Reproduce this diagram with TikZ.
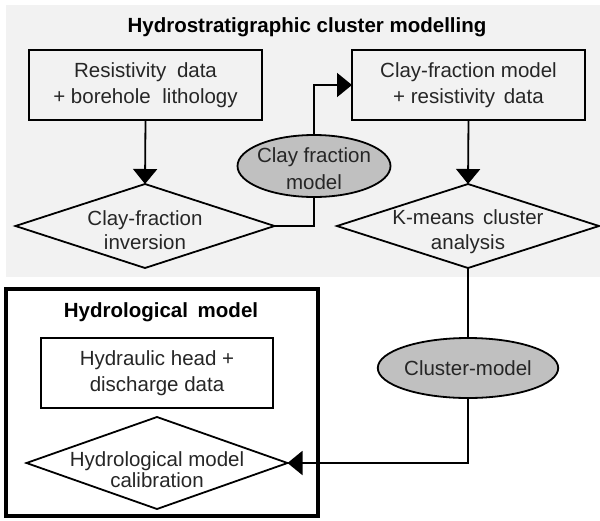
\documentclass[tikz,border=0pt]{standalone}
\usepackage{fontspec}
\setmainfont{Liberation Sans}
\usetikzlibrary{arrows.meta,shapes.geometric}
\definecolor{bggray}{HTML}{F2F2F2}
\definecolor{ellgray}{HTML}{C0C0C0}
\definecolor{txt}{HTML}{262626}
\begin{document}
\begin{tikzpicture}[x=1pt,y=-1pt,
  every node/.style={inner sep=0pt, outer sep=0pt, text=txt, align=center},
  body/.style={font=\fontsize{20.5}{26}\selectfont},
  heading/.style={font=\bfseries\fontsize{20.5}{26}\selectfont, text=black},
  procbox/.style={draw=black, line width=1.8pt, minimum width=233pt, minimum height=70pt, body},
  decision/.style={diamond, draw=black, line width=1.8pt},
  dataell/.style={ellipse, draw=black, line width=1.8pt, fill=ellgray, body},
  frame/.style={draw=black, line width=3.6pt, fill=white},
  link/.style={draw=black, line width=1.8pt},
  conn/.style={link, -{Triangle[length=15pt,width=24pt]}}
]
\useasboundingbox (0,0) rectangle (600,520);
% background panel
\fill[bggray] (6,5) rectangle (600,277);
\node[heading] (t1) at (307,27) {Hydrostratigraphic cluster modelling};

\node[procbox] (b1) at (145.5,85) {Resistivity\hspace{5pt} data\\+ borehole\hspace{6pt} lithology};
\node[procbox] (b2) at (468.5,85) {Clay-fraction model\\+ resistivity\hspace{3pt} data};

\node[decision, minimum width=259pt, minimum height=84pt] (d1) at (145,226) {};
\node[body, font=\fontsize{20.5}{24}\selectfont] (d1t) at (145,230) {Clay-fraction\\inversion};
\node[decision, minimum width=262pt, minimum height=84pt] (d2) at (468,226) {};
\node[body, font=\fontsize{20.5}{25}\selectfont] (d2t) at (468,232) {K-means\hspace{3pt} cluster\\analysis};

\node[dataell, minimum width=153pt, minimum height=62pt] (e1) at (314,166) {};
\node[body, font=\fontsize{20.5}{27}\selectfont] (e1t) at (314,168.5) {Clay fraction\\model};

% hydrological model frame
\node[frame, minimum width=312pt, minimum height=227pt] (hm) at (162,402.5) {};
\node[heading] (t2) at (161,312) {Hydrological\hspace{4pt} model};
\node[procbox, minimum width=232pt] (b3) at (157,373) {Hydraulic head +\\discharge data};
\node[decision, minimum width=261pt, minimum height=92pt] (d3) at (157,463) {};
\node[body, font=\fontsize{20.5}{21}\selectfont] (d3t) at (157,470) {Hydrological model\\calibration};

\node[dataell, minimum width=151pt, minimum height=60pt] (e2) at (468,368) {Cluster-model};

% connectors
\draw[conn] (b1.south) -- (d1.north);
\draw[link] (d1.east) -| (e1.south);
\draw[conn] (e1.north) |- (b2.west);
\draw[conn] (b2.south) -- (d2.north);
\draw[link] (d2.south) -- (e2.north);
\draw[conn] (e2.south) |- (d3.east);
\end{tikzpicture}
\end{document}
